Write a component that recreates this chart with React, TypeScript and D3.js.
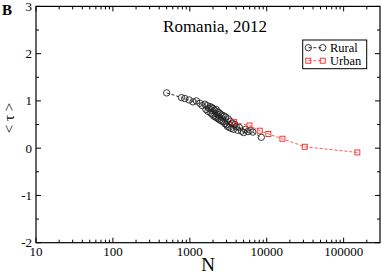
import React from 'react'
import * as d3 from 'd3'

// rural municipalities: population N and mean tau
const ruralN = [500, 780, 860, 980, 1100, 1220, 1350, 1450, 1570, 1620, 1680, 1720, 1780, 1830, 1880, 1920, 1960, 2000, 2050, 2100, 2150, 2200, 2250, 2300, 2350, 2400, 2450, 2500, 2560, 2620, 2700, 2780, 2850, 2920, 3000, 3080, 3150, 3250, 3350, 3450, 3550, 3700, 3850, 4000, 4200, 4400, 4700, 5000, 5300, 5700, 6100, 6600, 8500]
const ruralTau = [1.17, 1.07, 1.05, 1.02, 0.98, 1.0, 0.95, 0.9, 0.93, 0.82, 0.9, 0.78, 0.84, 0.88, 0.74, 0.86, 0.72, 0.84, 0.68, 0.8, 0.66, 0.82, 0.64, 0.77, 0.62, 0.75, 0.6, 0.72, 0.58, 0.7, 0.56, 0.68, 0.52, 0.66, 0.5, 0.46, 0.62, 0.44, 0.57, 0.42, 0.53, 0.4, 0.5, 0.46, 0.38, 0.44, 0.36, 0.33, 0.4, 0.35, 0.38, 0.34, 0.23]

const urbanN = [3760, 5960, 8110, 10500, 16000, 31200, 150700]
const urbanTau = [0.55, 0.48, 0.37, 0.3, 0.2, 0.03, -0.09]

const xTickValues = [10, 100, 1000, 10000, 100000]
const xTickLabels = ['10', '100', '1000', '10000', '100000']
const yTickValues = [-2, -1, 0, 1, 2, 3]

const W = 382, H = 273
const left = 36, right = 380, top = 6.4, bottom = 242.7

export default function App() {
  const x = d3.scaleLog().domain([10, 297000]).range([left, right])
  const y = d3.scaleLinear().domain([-2, 3]).range([bottom, top])

  const rural = ruralN.map((n, i) => ({ n, t: ruralTau[i] }))
  const urban = urbanN.map((n, i) => ({ n, t: urbanTau[i] }))
  const line = d3.line<{ n: number; t: number }>().x(d => x(d.n)).y(d => y(d.t))

  // minor ticks 2..9 in each decade
  const minorX: number[] = []
  for (let e = 1; e <= 5; e++) {
    for (let k = 2; k <= 9; k++) {
      const v = k * Math.pow(10, e)
      if (v < 297000) minorX.push(v)
    }
  }
  const minorY = d3.range(-1.5, 3, 1)

  const font = '"Liberation Serif", "DejaVu Serif", serif'
  const sq = 5
  const cr = 3.2

  return (
    <svg width={W} height={H} style={{ position: 'absolute', left: 0, top: 0, background: '#fff' }} fontFamily={font}>
      <text x={2} y={15} fontSize={15} fontWeight="bold">B</text>

      {/* ticks */}
      <g stroke="#000" strokeWidth={1}>
        {xTickValues.map(v => (
          <g key={'xt' + v}>
            <line x1={x(v)} x2={x(v)} y1={bottom} y2={bottom - 5} />
            <line x1={x(v)} x2={x(v)} y1={top} y2={top + 5} />
          </g>
        ))}
        {minorX.map(v => (
          <g key={'xm' + v}>
            <line x1={x(v)} x2={x(v)} y1={bottom} y2={bottom - 3} />
            <line x1={x(v)} x2={x(v)} y1={top} y2={top + 3} />
          </g>
        ))}
        {yTickValues.map(v => (
          <g key={'yt' + v}>
            <line x1={left} x2={left + 5} y1={y(v)} y2={y(v)} />
            <line x1={right} x2={right - 5} y1={y(v)} y2={y(v)} />
          </g>
        ))}
        {minorY.map(v => (
          <g key={'ym' + v}>
            <line x1={left} x2={left + 3} y1={y(v)} y2={y(v)} />
            <line x1={right} x2={right - 3} y1={y(v)} y2={y(v)} />
          </g>
        ))}
      </g>
      <rect x={left} y={top} width={right - left} height={bottom - top} fill="none" stroke="#000" strokeWidth={1.2} />

      {xTickValues.map((v, i) => (
        <text key={'xl' + v} x={x(v)} y={256} fontSize={13} textAnchor="middle">{xTickLabels[i]}</text>
      ))}
      {yTickValues.map(v => (
        <text key={'yl' + v} x={32} y={y(v) + 4.5} fontSize={13} textAnchor="end">{v}</text>
      ))}

      <text x={208} y={271} fontSize={19} textAnchor="middle">N</text>
      <text transform={`translate(14,118) rotate(-90)`} fontSize={15} textAnchor="middle">{'< τ >'}</text>
      <text x={215} y={31.5} fontSize={17} textAnchor="middle">Romania, 2012</text>

      {/* series */}
      <path d={line(rural) || ''} fill="none" stroke="#000" strokeWidth={0.8} strokeDasharray="3,2" />
      {rural.map((d, i) => (
        <circle key={'r' + i} cx={x(d.n)} cy={y(d.t)} r={cr} fill="none" stroke="#222" strokeWidth={0.9} />
      ))}
      <path d={line(urban) || ''} fill="none" stroke="#ff3030" strokeWidth={0.8} strokeDasharray="3,2" />
      {urban.map((d, i) => (
        <rect key={'u' + i} x={x(d.n) - sq / 2} y={y(d.t) - sq / 2} width={sq} height={sq} fill="none" stroke="#ff2020" strokeWidth={0.9} />
      ))}

      {/* legend */}
      <rect x={302.7} y={40} width={64} height={28.7} fill="#fff" stroke="#000" strokeWidth={1} />
      <line x1={308.3} x2={322.7} y1={47.7} y2={47.7} stroke="#000" strokeWidth={0.8} strokeDasharray="3,2" />
      <circle cx={308.3} cy={47.7} r={cr} fill="none" stroke="#222" strokeWidth={0.9} />
      <circle cx={322.7} cy={47.7} r={cr} fill="none" stroke="#222" strokeWidth={0.9} />
      <text x={330} y={52} fontSize={12.5}>Rural</text>
      <line x1={308.3} x2={322.7} y1={60.7} y2={60.7} stroke="#ff3030" strokeWidth={0.8} strokeDasharray="3,2" />
      <rect x={308.3 - sq / 2} y={60.7 - sq / 2} width={sq} height={sq} fill="none" stroke="#ff2020" strokeWidth={0.9} />
      <rect x={322.7 - sq / 2} y={60.7 - sq / 2} width={sq} height={sq} fill="none" stroke="#ff2020" strokeWidth={0.9} />
      <text x={330} y={65} fontSize={12.5}>Urban</text>
    </svg>
  )
}
